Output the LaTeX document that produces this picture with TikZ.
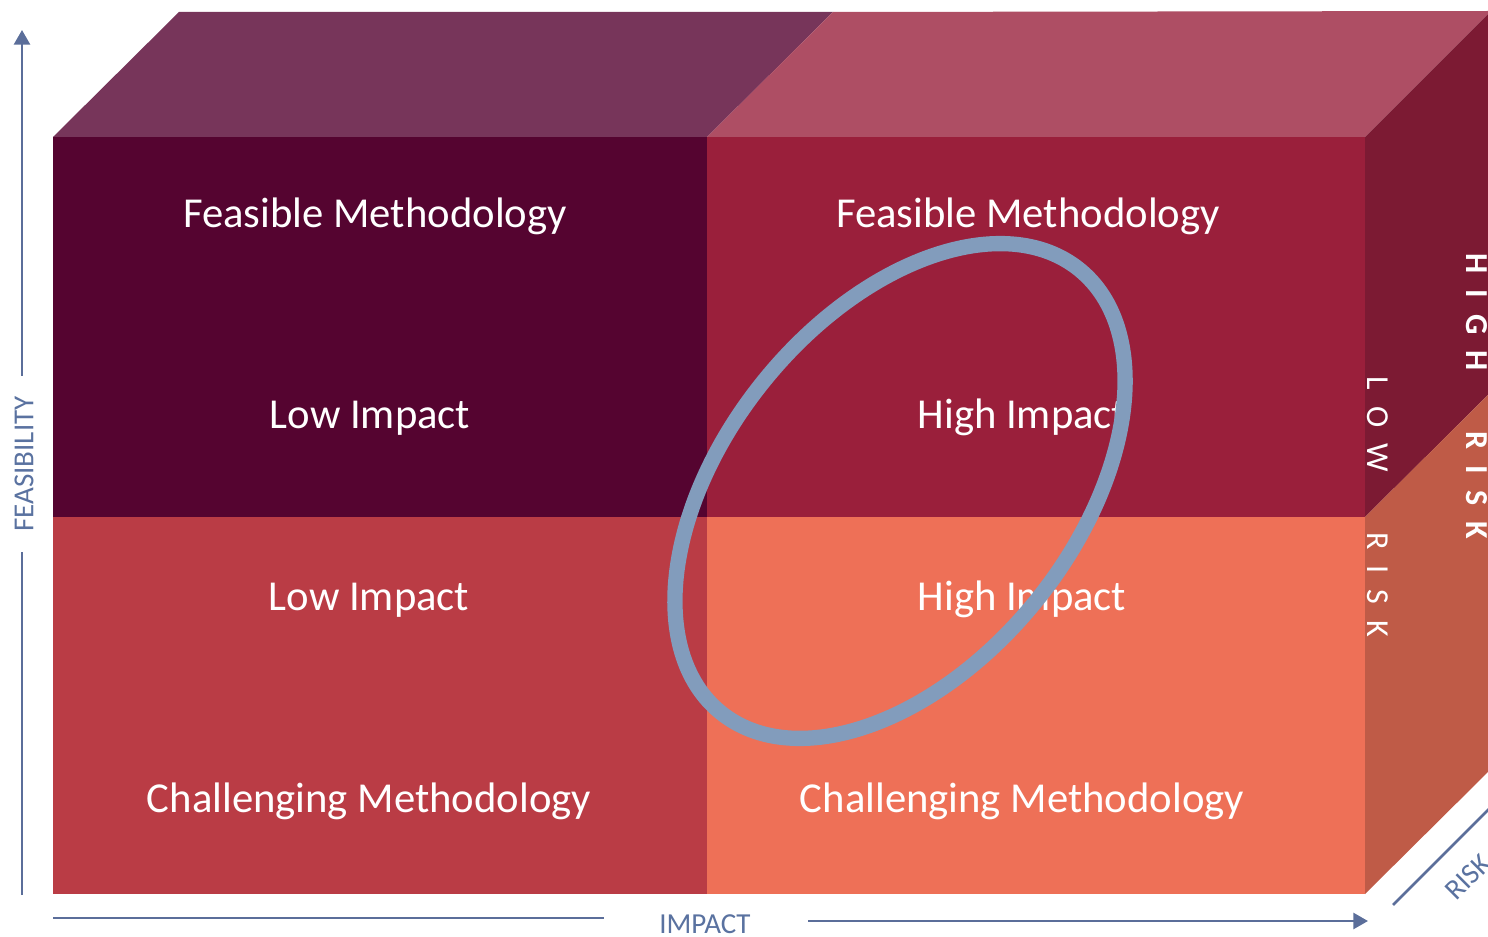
\documentclass[tikz,border=0pt]{standalone}
\usepackage{fontspec}
\setmainfont{Carlito}
\usetikzlibrary{arrows.meta}
\definecolor{topL}{HTML}{77355A}
\definecolor{topR}{HTML}{AE4E64}
\definecolor{fTL}{HTML}{550430}
\definecolor{fTR}{HTML}{9A1F3B}
\definecolor{fBL}{HTML}{BA3C45}
\definecolor{fBR}{HTML}{EE7057}
\definecolor{rU}{HTML}{7C1A33}
\definecolor{rL}{HTML}{BF5B47}
\definecolor{ringc}{HTML}{829CBC}
\definecolor{axisc}{HTML}{5B6E9A}
\definecolor{axtext}{HTML}{5A72A0}
\newcommand\lsp{\hspace{0.5em}}
\newcommand\wsp{\hspace{1.9em}}
\begin{document}
\begin{tikzpicture}[x=0.75pt,y=-0.75pt,
  celltext/.style={text=white, font=\fontsize{32}{36}\selectfont, anchor=base, inner sep=0pt},
  sidetext/.style={text=white, font=\fontsize{24}{28}\selectfont, inner sep=0pt, rotate=-90},
  axlabel/.style={text=axtext, font=\fontsize{21.75}{24}\selectfont, inner sep=0pt},
  axline/.style={draw=axisc, line width=2pt},
  axarrow/.style={axline, -{Triangle[width=12pt,length=11pt]}},
  ring/.style={draw=ringc, line width=11.5pt}]
\useasboundingbox (0,0) rectangle (1488,937);
\clip (0,0) rectangle (1488,937);
% top faces
\fill[topL] (53,137) -- (707,137) -- (833,12) -- (179,12) -- cycle;
\fill[topR] (707,137) -- (1365,137) -- (1491,11) -- (833,12) -- cycle;
% front faces
\fill[fTL] (53,137) rectangle (707,517);
\fill[fTR] (707,137) rectangle (1365,517);
\fill[fBL] (53,517) rectangle (707,894);
\fill[fBR] (707,517) rectangle (1365,894);
% right faces
\fill[rU] (1365,137) -- (1491,11) -- (1491,392) -- (1365,517) -- cycle;
\fill[rL] (1365,517) -- (1491,392) -- (1491,769) -- (1365,894) -- cycle;
% cell texts
\node[celltext] (fm1) at (375,228) {Feasible Methodology};
\node[celltext] (fm2) at (1028,228) {Feasible Methodology};
\node[celltext] (li1) at (370,429) {Low Impact};
\node[celltext] (hi1) at (1022,429) {High Impact};
\node[celltext] (li2) at (369,610) {Low Impact};
\node[celltext] (hi2) at (1022,610) {High Impact};
\node[celltext] (cm1) at (369,812) {Challenging Methodology};
\node[celltext] (cm2) at (1022,812) {Challenging Methodology};
% side texts
\node[sidetext] (lowrisk) at (1378,507) {L\lsp O\lsp W\wsp R\lsp I\lsp S\lsp K};
\node[sidetext, font=\fontsize{24}{28}\selectfont\bfseries] (highrisk) at (1477,396) {H\lsp I\lsp G\lsp H\wsp R\lsp I\lsp S\lsp K};
% ring
\draw[ring, rotate around={51:(900,491)}] (900,491) ellipse [x radius=285, y radius=175];
% axes
\coordinate (vb) at (22,895);
\coordinate (vg1) at (22,552);
\coordinate (vg2) at (22,376);
\coordinate (vt) at (22,30);
\node[axlabel, rotate=90] (feas) at (24,464) {FEASIBILITY};
\draw[axline] (vb) -- (vg1);
\draw[axarrow] (vg2) -- (vt);
\coordinate (hl) at (53,918);
\coordinate (hg1) at (604,918);
\coordinate (hg2) at (808,921);
\coordinate (hr) at (1368,921);
\node[axlabel] (impact) at (705,924) {IMPACT};
\draw[axline] (hl) -- (hg1);
\draw[axarrow] (hg2) -- (hr);
\coordinate (rs) at (1393,905);
\coordinate (re) at (1530,768);
\draw[axline] (rs) -- (re);
\node[axlabel, rotate=45] (risk) at (1468,877) {RISK};
\end{tikzpicture}
\end{document}
